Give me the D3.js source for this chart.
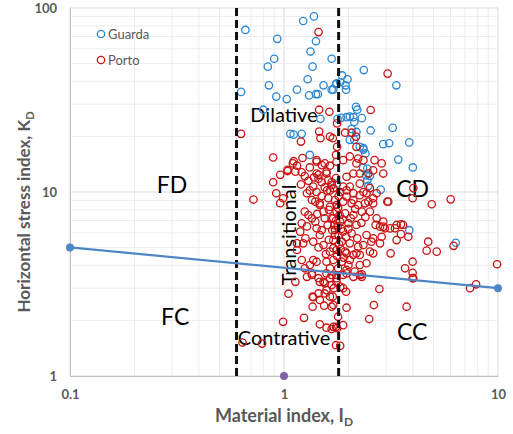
<!DOCTYPE html>
<html>
<head>
<meta charset="utf-8">
<script src="https://cdn.jsdelivr.net/npm/d3@7"></script>
<style>
  body { margin: 0; background: #fff; }
  text { font-family: Lato, "Open Sans", sans-serif; }
</style>
</head>
<body>
<div id="content"></div>
<script>
// [material index ID, horizontal stress index KD]
const guarda = [
  [0.63,35],[0.66,76],[0.93,68],[1.23,85],[1.38,90],[1.41,66],[1.33,58],[0.90,53],[0.84,48],[1.36,48],
  [1.67,53],[1.29,41],[0.85,38],[1.15,36],[1.53,38],[1.67,36],[1.75,38.5],[0.92,33],[1.03,32],[1.31,33.5],
  [1.41,34],[1.44,34],[2.36,46],[3.35,38],[1.87,43],[1.98,41],[1.76,39],[1.94,38],[1.83,39.5],[1.70,36],
  [1.95,36],[0.80,28],[2.17,29],[2.2,28],[2.03,25.7],[1.96,25.5],[2.11,25.5],[2.31,25.2],[2.13,24],[2.54,21.6],
  [3.22,22.3],[2.91,18.2],[3.1,18.4],[3.85,18.6],[3.42,15],[4.0,13.6],[2.45,13.4],[2.83,10.3],[2.48,10.8],[2.35,17],
  [2.4,16.2],[2.26,17.6],[2.03,19.2],[2.07,22],[1.32,15.9],[1.07,20.7],[1.11,20.5],[1.21,20.7],[1.77,11.1],[3.85,6.2],
  [6.35,5.3],[1.48,25],[1.78,25],[1.85,25.3],[2.34,13.5],[2.45,11.6],[2.18,21.2],[2.13,19.2],[2.35,17.3],[2.52,12.2],
  [2.42,12.3]
];
const porto = [
  [0.63,20.7],[0.72,9.1],[0.64,1.52],[0.79,1.5],[0.99,1.97],[1.24,2.07],[1.05,2.8],
  [1.36,2.7],[1.36,2.38],[1.47,2.59],[1.54,2.41],[1.45,2.81],[1.55,2.81],[1.64,2.7],[1.70,2.43],[1.67,3.12],
  [1.55,3.19],[1.47,3.25],[1.58,2.93],[1.71,3.0],[1.76,3.25],[1.47,1.91],[1.58,1.83],[1.67,1.8],[1.75,1.85],[1.75,1.47],
  [1.76,3.4],[1.89,3.0],[1.95,2.87],[1.69,2.7],[1.96,2.35],[1.79,2.1],[1.89,1.89],[1.70,1.85],[1.77,1.82],[1.83,1.46],
  [2.31,3.46],[2.79,2.97],[2.63,2.43],[2.50,2.04],[3.74,2.38],[3.99,3.4],
  [9.9,4.05],[7.4,3.0],[7.9,3.15],[4.72,5.37],[4.64,4.8],[5.17,4.74],[3.68,3.85],[3.99,4.18],[3.99,3.64],[4.02,3.4],[3.15,4.64],
  [1.15,4.84],[1.21,4.27],[1.25,3.85],[1.15,5.26],[1.37,4.27],[1.35,3.61],[1.53,3.25],[1.37,2.68],[1.67,2.38],[1.83,3.06],
  [1.96,3.61],[2.03,4.27],[2.26,3.54],[2.43,4.1],[2.61,4.64],[2.56,5.37],[2.18,4.64],[1.96,4.64],
  [2.91,6.48],[3.13,6.34],[3.36,6.62],[3.6,6.62],[3.81,5.71],[3.36,5.48],[2.86,5.71],
  [3.07,8.86],[4.9,8.58],[3.99,9.25],[3.52,6.67],[3.52,5.9],[3.3,6.35],[2.96,6.35],[2.81,6.48],
  [2.61,9.25],[2.48,8.86],[2.35,10.0],[2.52,10.5],[2.31,7.82],[2.52,7.82],[2.71,7.19],[2.91,6.9],[2.68,6.62],
  [2.43,5.84],[2.61,5.6],[2.35,5.15],[2.52,4.74],[2.26,4.55],[2.81,5.26],[2.26,4.01],[2.14,3.69],[1.96,3.77],[2.31,3.57],
  [0.96,8.7],[1.13,3.25],[1.28,3.46],[1.35,3.54],[1.45,3.4],[1.58,3.61],[1.64,3.4],[1.76,3.54],
  [1.23,5.26],[1.19,6.09],[1.21,6.76],[1.25,7.82],[1.28,9.84],[1.32,10.2],[1.42,10.0],[1.40,8.86],[1.47,8.5],[1.53,7.82],
  [1.61,9.25],[1.64,10.2],[1.35,7.19],[1.42,6.35],[1.47,5.84],[1.37,5.37],[1.53,5.15],[1.64,4.74],[1.58,4.18],[1.42,4.18],
  [1.32,4.01],[1.64,3.85],[1.73,5.84],[1.70,7.19],[1.76,8.5],
  [0.89,15.4],[0.96,12.4],[1.04,13.0],[1.11,14.7],[1.15,13.9],[1.22,15.3],[1.21,12.8],[1.32,13.6],[1.42,14.6],[1.50,14.0],
  [1.58,12.9],[1.64,13.9],[1.76,14.6],[1.45,12.4],[1.61,11.6],[1.75,11.9],[1.67,10.9],[0.89,11.3],
  [1.20,18.8],[1.46,21.3],[1.48,19.6],[1.46,28],[1.63,27.3],[1.69,19.6],[1.77,17.6],[1.75,15.9],[1.93,21.0],[2.07,21.0],
  [2.17,20.0],[2.18,17.6],[2.03,15.6],[2.22,15.2],[2.54,27.9],[1.77,23.6],[1.64,20.0],
  [0.92,9.84],[0.99,9.25],[1.10,14.3],[1.13,12.9],[1.04,13.2],
  [1.42,14.9],[1.55,14.3],[1.58,12.6],[1.42,12.6],[1.50,11.3],[1.67,11.3],[1.59,10.2],[1.37,10.7],[1.35,9.05],[1.47,8.68],[1.64,8.3],
  [1.89,14.9],[2.18,14.3],[2.35,14.9],[2.48,12.6],[2.61,13.1],[2.26,12.6],[2.11,12.6],[1.96,12.1],[1.89,10.7],[2.03,10.7],
  [2.26,11.1],[2.43,9.84],[1.96,9.44],[2.11,9.05],[2.39,8.68],[2.61,8.68],[2.71,9.84],[2.91,12.6],[3.04,8.86],[2.86,14.3],
  [2.65,14.9],[6.01,9.12],[4.02,10.5],[6.2,5.1],[3.05,44],[1.45,74],
  [1.70,10.5],[1.83,10.0],[1.96,10.2],[2.11,9.84],[2.26,9.6],[1.73,9.05],[1.89,8.86],[2.07,8.68],[2.22,8.5],[1.76,7.82],
  [1.93,7.66],[2.11,7.5],[1.67,7.19],[1.83,6.9],[2.0,6.76],[2.18,6.62],[1.73,6.22],[1.89,6.09],[2.07,5.96],[1.70,5.48],
  [1.86,5.37],[2.03,5.26],[2.22,5.04],[1.76,4.84],[1.93,4.74],[2.11,4.55],[1.70,4.27],[1.86,4.18],[2.0,4.01],[1.79,3.85],
  [1.67,3.54],[1.89,3.54],[2.11,3.46],
  [1.78,6.5],[1.82,7.5],[1.8,5.8],[1.75,7.0],[1.85,6.3],[1.79,8.2],[1.81,5.2],[1.77,4.5],[1.84,4.9],[1.8,9.5],
  [1.72,6.6],[1.88,7.1],[1.6,6.6],[1.55,7.2],[1.5,6.2],[1.62,5.5],[1.57,4.6],[1.45,5.0],[1.5,9.5],[1.55,10.6],
  [1.45,11.8],[1.38,12.0],[1.3,11.5],[1.25,12.2],[1.2,11.0],[1.3,7.5],[1.28,6.5],[1.26,5.6],[1.4,6.9],[1.43,7.6],
  [1.62,8.0],[1.68,6.2],[1.7,4.95],[1.9,4.4],[1.95,5.7],[2.0,6.3],[2.05,7.2],[2.15,8.1],[2.2,5.6],[2.3,6.8],[2.4,7.3]
];
// boundary line between dilative / contractive
const boundary = [[0.1,5],[10,3]];
const extraPoint = [[1,1]];
const dividers = [0.6,1.8];
const xTicks = [0.1,1,10];
const yTicks = [1,10,100];
const regions = [
  {t:"FD",id:0.30,kd:9.85,size:23},
  {t:"FC",id:0.31,kd:1.89,size:23},
  {t:"CD",id:3.99,kd:9.4,size:23},
  {t:"CC",id:3.97,kd:1.57,size:23},
  {t:"Dilative",id:1.0,kd:24.0,size:20},
  {t:"Contrative",id:1.0,kd:1.48,size:20}
];

const w = 513, h = 434;
const mLeft = 70, mRight = 498, mTop = 8, mBottom = 376;
const blue = "#2b87d1", red = "#c81414";

const x = d3.scaleLog().domain([0.1,10]).range([mLeft,mRight]);
const y = d3.scaleLog().domain([1,100]).range([mBottom,mTop]);

const svg = d3.select("#content").append("svg").attr("width",w).attr("height",h);

// grid (minor + major)
svg.append("g").selectAll("line").data(x.ticks()).enter().append("line")
  .attr("x1",d=>x(d)).attr("x2",d=>x(d)).attr("y1",mTop).attr("y2",mBottom)
  .attr("stroke",d=>xTicks.includes(d)?"#d9d9d9":"#ececec").attr("stroke-width",1);
svg.append("g").selectAll("line").data(y.ticks()).enter().append("line")
  .attr("x1",mLeft).attr("x2",mRight).attr("y1",d=>y(d)).attr("y2",d=>y(d))
  .attr("stroke",d=>yTicks.includes(d)?"#d9d9d9":"#ececec").attr("stroke-width",1);

// axes
let xAxis = d3.axisBottom(x).tickValues(xTicks).tickSize(0).tickPadding(14).tickFormat(d=>String(d));
let yAxis = d3.axisLeft(y).tickValues(yTicks).tickSize(0).tickPadding(13).tickFormat(d=>String(d));
let gx = svg.append("g").attr("transform",`translate(0,${mBottom})`).call(xAxis);
let gy = svg.append("g").attr("transform",`translate(${mLeft},0)`).call(yAxis);
[gx,gy].forEach(g=>{
  g.select(".domain").attr("stroke","#bfbfbf");
  g.selectAll("text").attr("fill","#595959").attr("font-size",13).attr("font-weight","bold")
   .attr("font-family","Lato, sans-serif");
});

// region labels
svg.append("g").selectAll("text").data(regions).enter().append("text")
  .attr("x",d=>x(d.id)).attr("y",d=>y(d.kd)).attr("text-anchor","middle")
  .attr("font-size",d=>d.size).attr("fill","#000").text(d=>d.t);
svg.append("text").attr("transform",`translate(${x(1.14)},${y(5.84)}) rotate(-90)`)
  .attr("text-anchor","middle").attr("font-size",20).attr("fill","#000").text("Transitional");

// points
const drawSeries = (data,color)=>{
  svg.append("g").selectAll("circle").data(data).enter().append("circle")
    .attr("cx",d=>x(d[0])).attr("cy",d=>y(d[1])).attr("r",3.7)
    .attr("fill","none").attr("stroke",color).attr("stroke-width",1.3);
};
drawSeries(guarda,blue);
drawSeries(porto,red);

// dashed dividers
svg.append("g").selectAll("line").data(dividers).enter().append("line")
  .attr("x1",d=>x(d)).attr("x2",d=>x(d)).attr("y1",mTop).attr("y2",mBottom)
  .attr("stroke","#111").attr("stroke-width",3).attr("stroke-dasharray","8,4");

// boundary line with end markers
svg.append("path").datum(boundary)
  .attr("d",d3.line().x(d=>x(d[0])).y(d=>y(d[1])))
  .attr("stroke","#4f86c6").attr("stroke-width",2.2).attr("fill","none");
svg.append("g").selectAll("circle").data(boundary).enter().append("circle")
  .attr("cx",d=>x(d[0])).attr("cy",d=>y(d[1])).attr("r",4).attr("fill","#4f86c6");
svg.append("g").selectAll("circle").data(extraPoint).enter().append("circle")
  .attr("cx",d=>x(d[0])).attr("cy",d=>y(d[1])).attr("r",4).attr("fill","#7f63a8");

// legend
let legend = svg.append("g").selectAll("g").data([["Guarda",blue],["Porto",red]]).enter().append("g")
  .attr("transform",(d,i)=>`translate(101,${34+i*26})`);
legend.append("circle").attr("r",3.7).attr("fill","none").attr("stroke",d=>d[1]).attr("stroke-width",1.3);
legend.append("text").attr("x",7).attr("dy","0.35em").attr("font-size",13).attr("fill","#595959").text(d=>d[0]);

// axis titles
let yt = svg.append("text").attr("transform",`translate(30,212) rotate(-90)`)
  .attr("text-anchor","middle").attr("font-size",17).attr("font-weight","bold").attr("fill","#595959");
yt.append("tspan").text("Horizontal stress index, K");
yt.append("tspan").attr("font-size",11).attr("dy",4).text("D");
let xt = svg.append("text").attr("x",x(1)).attr("y",422)
  .attr("text-anchor","middle").attr("font-size",18).attr("font-weight","bold").attr("fill","#595959");
xt.append("tspan").text("Material index, I");
xt.append("tspan").attr("font-size",12).attr("dy",4).text("D");
</script>
</body>
</html>
